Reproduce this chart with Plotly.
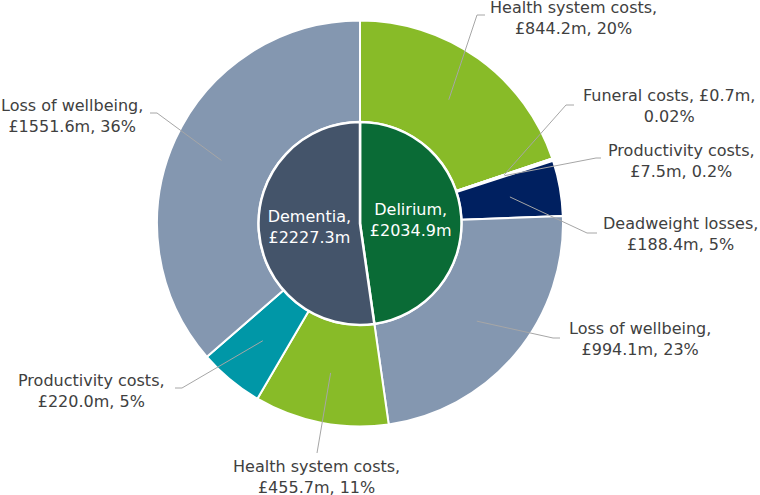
import math
import plotly.graph_objects as go

# ---------------- data ----------------
conditions = ["Delirium", "Dementia"]
condition_totals = [2034.9, 2227.3]

cost_labels = ["Health system costs", "Funeral costs", "Productivity costs",
               "Deadweight losses", "Loss of wellbeing",
               "Health system costs", "Productivity costs", "Loss of wellbeing"]
cost_parents = ["Delirium"] * 5 + ["Dementia"] * 3
cost_values = [844.2, 0.7, 7.5, 188.4, 994.1, 455.7, 220.0, 1551.6]
cost_shares = ["20%", "0.02%", "0.2%", "5%", "23%", "11%", "5%", "36%"]

# ---------------- style / layout ----------------
condition_colors = ["#0A6B36", "#44546A"]
cost_colors = ["#88BB28", "#FFFFFF", "#F2F2F2", "#002060", "#8497B0",
               "#88BB28", "#0097A7", "#8497B0"]
FONT = "DejaVu Sans"
TEXT_COLOR = "#404040"
LINE_COLOR = "#A6A6A6"

W, H = 760, 495
CX, CY = 360, 223.5          # pie centre (px)
R_OUT, R_IN = 203, 101.5      # ring radii (px)

# label block centres and leader-line end points (px)
label_pos = [(573, 18), (668.5, 106.5), (681, 161), (680.5, 234),
             (639.5, 339), (316, 476.5), (91, 391), (72, 116.5)]
leader_end = [(485, 15), (574, 105), (601, 158), (597, 233),
              (560, 338), (317, 453), (175, 388), (150, 113)]
leader_elbow = [(477, 15), (566, 105), (596, 158), (587, 233),
                (553, 338), (317, 453), (182, 388), (157, 113)]
break_after_value = [False, True, False, False, False, False, False, False]


def to_paper(x, y):
    return x / W, 1 - y / H


total = sum(cost_values)

fig = go.Figure()

# outer ring
fig.add_trace(go.Pie(
    labels=[f"{p} - {l}" for p, l in zip(cost_parents, cost_labels)],
    values=cost_values,
    sort=False, direction="clockwise", rotation=0,
    hole=R_IN / R_OUT,
    marker=dict(colors=cost_colors, line=dict(color="white", width=2)),
    textinfo="none", showlegend=False, hoverinfo="label+value",
    domain=dict(x=[(CX - R_OUT) / W, (CX + R_OUT) / W],
                y=[1 - (CY + R_OUT) / H, 1 - (CY - R_OUT) / H]),
))

# inner pie
fig.add_trace(go.Pie(
    labels=conditions,
    values=condition_totals,
    sort=False, direction="clockwise", rotation=0,
    marker=dict(colors=condition_colors, line=dict(color="white", width=2.5)),
    texttemplate="%{label},<br>£%{value:.1f}m",
    textposition="inside", insidetextorientation="horizontal",
    insidetextfont=dict(family=FONT, size=16, color="white"),
    showlegend=False, hoverinfo="label+value",
    domain=dict(x=[(CX - R_IN) / W, (CX + R_IN) / W],
                y=[1 - (CY + R_IN) / H, 1 - (CY - R_IN) / H]),
))

# labels with leader lines from each segment's centroid
shapes = []
annotations = []
cum = 0.0
r_mid = (R_IN + R_OUT) / 2
for i, (lab, v, pct) in enumerate(zip(cost_labels, cost_values, cost_shares)):
    ang = math.radians(360 * (cum + v / 2) / total)
    cum += v
    sx = CX + r_mid * math.sin(ang)
    sy = CY - r_mid * math.cos(ang)
    p0 = to_paper(sx, sy)
    p1 = to_paper(*leader_elbow[i])
    p2 = to_paper(*leader_end[i])
    shapes.append(dict(
        type="path", xref="paper", yref="paper",
        path=f"M {p0[0]} {p0[1]} L {p1[0]} {p1[1]} L {p2[0]} {p2[1]}",
        line=dict(color=LINE_COLOR, width=1),
    ))
    if break_after_value[i]:
        txt = f"{lab}, £{v:.1f}m,<br>{pct}"
    else:
        txt = f"{lab},<br>£{v:.1f}m, {pct}"
    lx, ly = to_paper(*label_pos[i])
    annotations.append(dict(
        x=lx, y=ly, xref="paper", yref="paper", text=txt,
        showarrow=False, xanchor="center", yanchor="middle", align="center",
        font=dict(family=FONT, size=16, color=TEXT_COLOR),
    ))

fig.update_layout(
    width=W, height=H,
    margin=dict(l=0, r=0, t=0, b=0),
    paper_bgcolor="white", plot_bgcolor="white",
    font=dict(family=FONT, color=TEXT_COLOR),
    shapes=shapes, annotations=annotations,
)

fig.write_html("out.html",
               config={"displayModeBar": False},
               post_script="document.body.style.margin='0';"
                           "document.body.style.padding='0';"
                           "document.body.style.overflow='hidden';")
